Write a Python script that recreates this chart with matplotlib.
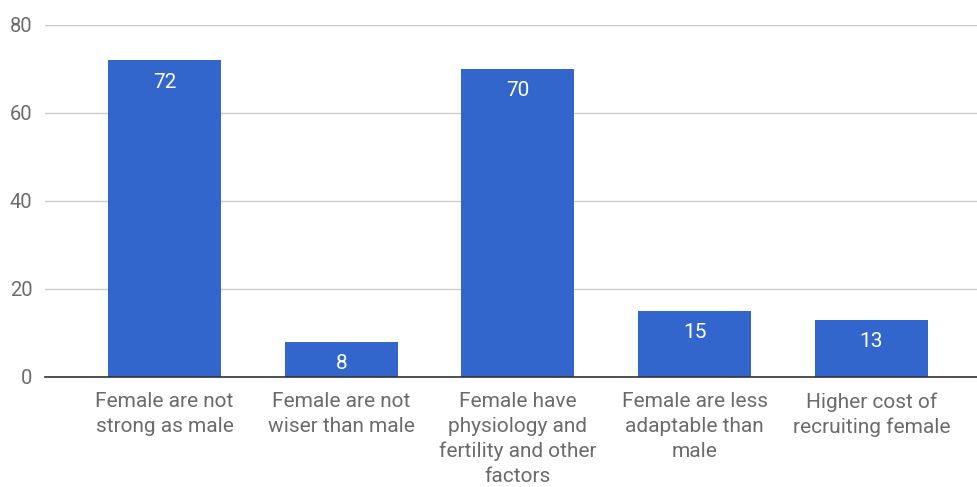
import matplotlib
matplotlib.use("Agg")
import matplotlib.pyplot as plt

categories = [
    "Female are not\nstrong as male",
    "Female are not\nwiser than male",
    "Female have\nphysiology and\nfertility and other\nfactors",
    "Female are less\nadaptable than\nmale",
    "Higher cost of\nrecruiting female",
]
values = [72, 8, 70, 15, 13]
yticks = [0, 20, 40, 60, 80]

plt.rcParams['font.family'] = ['Roboto', 'DejaVu Sans']

fig = plt.figure(figsize=(9.78, 4.87), dpi=100)
ax = fig.add_axes([0.046, 0.2259, 0.954, 0.7228])

x = list(range(len(categories)))
bars = ax.bar(x, values, width=0.639, color='#3366CC', zorder=3)

ax.set_ylim(0, 80)
ax.set_xlim(-0.676, 4.603)
ax.set_yticks(yticks)
ax.set_yticklabels([str(t) for t in yticks], fontsize=14.5, color='#6b6b6b')
ax.set_xticks(x)
ax.set_xticklabels(categories, fontsize=15, color='#6b6b6b', linespacing=1.38, va='top')
ax.tick_params(axis='both', length=0)
ax.tick_params(axis='x', pad=11)
ax.tick_params(axis='y', pad=9)

ax.yaxis.grid(True, color='#cccccc', linewidth=1, zorder=0)
for s in ['top', 'right', 'left']:
    ax.spines[s].set_visible(False)
ax.spines['bottom'].set_color('#333333')
ax.spines['bottom'].set_linewidth(1.2)
ax.spines['bottom'].set_zorder(4)

for rect, v in zip(bars, values):
    ax.annotate(str(v), xy=(rect.get_x() + rect.get_width() / 2, v),
                xytext=(0, -22), textcoords='offset pixels',
                ha='center', va='center', color='white', fontsize=15, zorder=5)

fig.savefig("out.png", dpi=100)
